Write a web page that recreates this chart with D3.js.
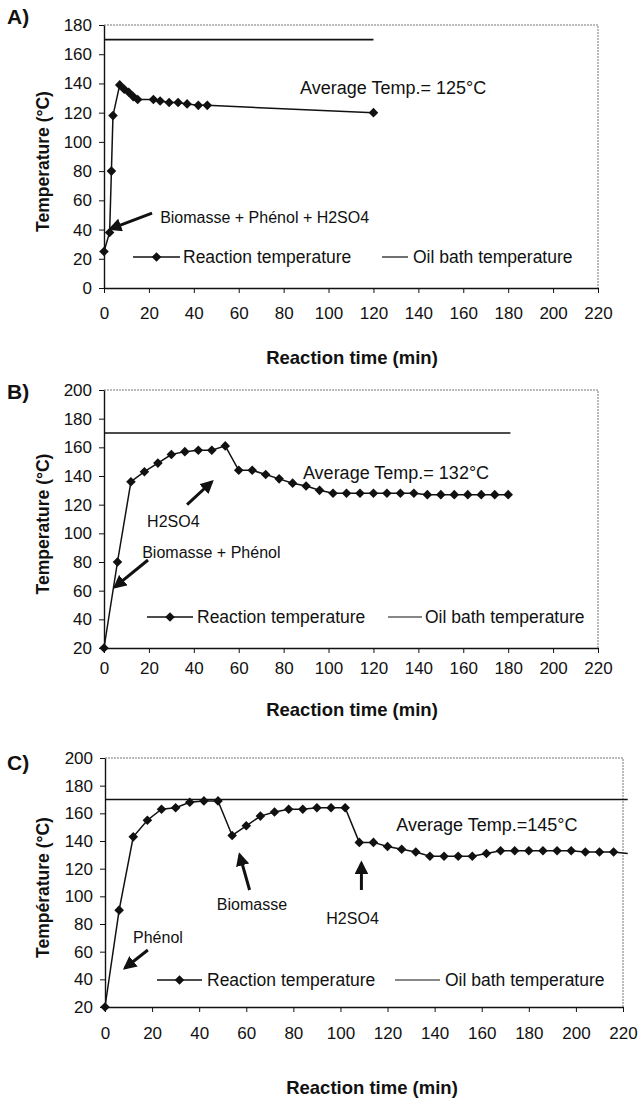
<!DOCTYPE html>
<html>
<head>
<meta charset="utf-8">
<script src="https://cdn.jsdelivr.net/npm/d3@7/dist/d3.min.js"></script>
<style>
  body { margin: 0; background: #fff; }
  svg text { font-family: Arial, "Liberation Sans", sans-serif; fill: #111; }
</style>
</head>
<body>
<div id="chart"></div>
<script>
// reaction temperature readings, panel A
const timeA = [0, 2.5, 3.3, 4, 7, 9, 11, 13, 15, 22, 25, 29, 33, 37, 42, 46, 120];
const tempA = [25, 38, 80, 118, 139, 136, 134, 131, 129, 129, 128, 127, 127, 126, 125, 125, 120];
// panel B
const timeB = [0, 6, 12, 18, 24, 30, 36, 42, 48, 54, 60, 66, 72, 78, 84, 90, 96,
    102, 108, 114, 120, 126, 132, 138, 144, 150, 156, 162, 168, 174, 180];
const tempB = [20, 80, 136, 143, 149, 155, 157, 158, 158, 161, 144, 144, 141, 138, 135, 133, 130,
    128, 128, 128, 128, 128, 128, 128, 127, 127, 127, 127, 127, 127, 127];
// panel C (last reading past the axis end, line only)
const timeC = [0, 6, 12, 18, 24, 30, 36, 42, 48, 54, 60, 66, 72, 78, 84, 90, 96, 102,
    108, 114, 120, 126, 132, 138, 144, 150, 156, 162, 168, 174, 180, 186, 192, 198, 204, 210, 216, 222];
const tempC = [20, 90, 143, 155, 163, 164, 168, 169, 169, 144, 151, 158, 161, 163, 163, 164, 164, 164,
    139, 139, 136, 134, 132, 129, 129, 129, 129, 131, 133, 133, 133, 133, 133, 133, 132, 132, 132, 131];
// oil bath temperature (start / end)
const oilTimeA = [0, 120], oilTempA = [170, 170];
const oilTimeB = [0, 181], oilTempB = [170, 170];
const oilTimeC = [0, 222], oilTempC = [170, 170];

const xTicks = [0, 20, 40, 60, 80, 100, 120, 140, 160, 180, 200, 220];
const yTicksA = [0, 20, 40, 60, 80, 100, 120, 140, 160, 180];
const yTicksBC = [20, 40, 60, 80, 100, 120, 140, 160, 180, 200];

const panels = [
    { tag: 'A)', time: timeA, temp: tempA, oilT: oilTimeA, oilV: oilTempA, yTicks: yTicksA,
      left: 104, right: 598, top: 25, bottom: 288, tickDy: 25, titleY: 358, titleX: 352, tagY: 24,
      yTitle: 'Temperature (°C)', avg: 'Average Temp.= 125°C', avgAt: [87.3, 137],
      legY: 257, leg: [133, 180, 183, 382, 408, 413],
      notes: [{ text: 'Biomasse + Phénol + H2SO4', at: [25, 48], from: [21.4, 51.3], to: [2.9, 40.5] }] },
    { tag: 'B)', time: timeB, temp: tempB, oilT: oilTimeB, oilV: oilTempB, yTicks: yTicksBC,
      left: 104, right: 598, top: 390, bottom: 648, tickDy: 20, titleY: 710, titleX: 352, tagY: 399,
      yTitle: 'Temperature (°C)', avg: 'Average Temp.= 132°C', avgAt: [88.6, 142],
      legY: 617, leg: [147, 193, 197, 388, 422, 425],
      notes: [{ text: 'H2SO4', at: [19.2, 108], from: [37, 120], to: [48, 136] },
              { text: 'Biomasse + Phénol', at: [17, 87], from: [19.6, 81.4], to: [4.9, 62.6] }] },
    { tag: 'C)', time: timeC, temp: tempC, oilT: oilTimeC, oilV: oilTempC, yTicks: yTicksBC,
      left: 105, right: 623, top: 758, bottom: 1007, tickDy: 26, titleY: 1088, titleX: 372, tagY: 770,
      yTitle: 'Température (°C)', avg: 'Average Temp.=145°C', avgAt: [123.7, 151.6],
      legY: 980, leg: [157, 202, 207, 395, 440, 445],
      notes: [{ text: 'Phénol', at: [11.9, 70.6], from: [18.2, 61.2], to: [8.5, 48.2] },
              { text: 'Biomasse', at: [47.5, 94.5], from: [61.4, 104.6], to: [57.2, 130] },
              { text: 'H2SO4', at: [94, 84.4], from: [108.9, 104.6], to: [108.9, 124] }] }
];

const svg = d3.select('#chart').append('svg')
    .attr('width', 640)
    .attr('height', 1099);

svg.append('defs').append('marker')
    .attr('id', 'head')
    .attr('viewBox', '0 0 10 10')
    .attr('refX', 8).attr('refY', 5)
    .attr('markerWidth', 4.5).attr('markerHeight', 4.5)
    .attr('markerUnits', 'strokeWidth')
    .attr('orient', 'auto')
    .append('path')
    .attr('d', 'M0,0 L10,5 L0,10 Z')
    .attr('fill', '#111');

const diamond = d3.symbol(d3.symbolSquare, 46);

panels.forEach(p => {
    const x = d3.scaleLinear().domain([0, 220]).range([p.left, p.right]);
    const y = d3.scaleLinear().domain(d3.extent(p.yTicks)).range([p.bottom, p.top]);
    const g = svg.append('g');

    // dotted frame on top and right
    g.append('path')
        .attr('d', `M${p.left},${p.top}H${p.right}V${p.bottom}`)
        .attr('fill', 'none')
        .attr('stroke', '#777')
        .attr('stroke-width', 1)
        .attr('stroke-dasharray', '2,1');

    // axes
    const xAxis = g.append('g')
        .attr('transform', `translate(0,${p.bottom})`)
        .call(d3.axisBottom(x).tickValues(xTicks).tickSize(5).tickSizeOuter(0).tickPadding(p.tickDy - 11));
    const yAxis = g.append('g')
        .attr('transform', `translate(${p.left},0)`)
        .call(d3.axisLeft(y).tickValues(p.yTicks).tickSize(5).tickSizeOuter(0).tickPadding(7));
    [xAxis, yAxis].forEach(a => {
        a.select('.domain').attr('stroke', '#111').attr('stroke-width', 1.4);
        a.selectAll('.tick line').attr('stroke', '#111');
        a.selectAll('.tick text').attr('font-size', 17).attr('fill', '#111')
            .attr('font-family', 'Arial, "Liberation Sans", sans-serif');
    });

    // oil bath line
    const oil = p.oilT.map((t, i) => [t, p.oilV[i]]);
    g.append('path')
        .attr('d', d3.line().x(d => x(d[0])).y(d => y(d[1]))(oil))
        .attr('fill', 'none')
        .attr('stroke', '#111')
        .attr('stroke-width', 1.6);

    // reaction temperature
    const pts = p.time.map((t, i) => [t, p.temp[i]]);
    g.append('path')
        .attr('d', d3.line().x(d => x(d[0])).y(d => y(d[1]))(pts))
        .attr('fill', 'none')
        .attr('stroke', '#111')
        .attr('stroke-width', 1.5);
    g.selectAll('.pt')
        .data(pts.filter(d => d[0] <= 220))
        .join('path')
        .attr('class', 'pt')
        .attr('d', diamond)
        .attr('transform', d => `translate(${x(d[0])},${y(d[1])}) rotate(45)`)
        .attr('fill', '#111');

    // annotations with arrows
    p.notes.forEach(n => {
        g.append('text')
            .attr('x', x(n.at[0])).attr('y', y(n.at[1]))
            .attr('dy', '0.35em')
            .attr('font-size', 16)
            .text(n.text);
        g.append('line')
            .attr('x1', x(n.from[0])).attr('y1', y(n.from[1]))
            .attr('x2', x(n.to[0])).attr('y2', y(n.to[1]))
            .attr('stroke', '#111')
            .attr('stroke-width', 3)
            .attr('marker-end', 'url(#head)');
    });

    g.append('text')
        .attr('x', x(p.avgAt[0])).attr('y', y(p.avgAt[1]))
        .attr('dy', '0.35em')
        .attr('font-size', 18)
        .text(p.avg);

    // legend
    const l = p.leg;
    g.append('line').attr('x1', l[0]).attr('x2', l[1]).attr('y1', p.legY).attr('y2', p.legY)
        .attr('stroke', '#111').attr('stroke-width', 1.5);
    g.append('path').attr('d', diamond)
        .attr('transform', `translate(${(l[0] + l[1]) / 2},${p.legY}) rotate(45)`)
        .attr('fill', '#111');
    g.append('text').attr('x', l[2]).attr('y', p.legY).attr('dy', '0.35em')
        .attr('font-size', 17.5).text('Reaction temperature');
    g.append('line').attr('x1', l[3]).attr('x2', l[4]).attr('y1', p.legY).attr('y2', p.legY)
        .attr('stroke', '#111').attr('stroke-width', 1.2);
    g.append('text').attr('x', l[5]).attr('y', p.legY).attr('dy', '0.35em')
        .attr('font-size', 17.5).text('Oil bath temperature');

    // titles
    g.append('text')
        .attr('x', p.titleX).attr('y', p.titleY).attr('dy', '0.35em')
        .attr('text-anchor', 'middle')
        .attr('font-size', 18.5).attr('font-weight', 'bold')
        .text('Reaction time (min)');
    g.append('text')
        .attr('transform', `translate(43,${(p.top + p.bottom) / 2 + 5}) rotate(-90)`)
        .attr('dy', '0.35em')
        .attr('text-anchor', 'middle')
        .attr('font-size', 17.5).attr('font-weight', 'bold')
        .text(p.yTitle);
    g.append('text')
        .attr('x', 7).attr('y', p.tagY)
        .attr('font-size', 21).attr('font-weight', 'bold')
        .text(p.tag);
});
</script>
</body>
</html>
